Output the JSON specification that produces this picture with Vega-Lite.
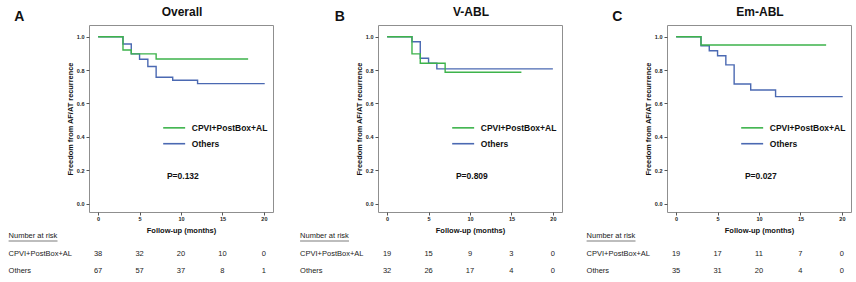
{
  "$schema": "https://vega.github.io/schema/vega-lite/v6.json",
  "background": "white",
  "padding": {"left": 8, "top": 5, "right": 0, "bottom": 0},
  "config": {
    "font": "Liberation Sans",
    "view": {"stroke": null},
    "axis": {"labelFontSize": 5.5, "labelFontWeight": "bold", "labelColor": "#222", "tickSize": 3, "tickColor": "#555", "domain": false, "grid": false, "titleFontSize": 7.4, "titleFontWeight": "bold", "titleColor": "#111"},
    "axisX": {"labelPadding": 1, "titlePadding": 5, "titleFontSize": 7.5},
    "axisY": {"labelPadding": 2, "titlePadding": 2},
    "title": {"fontSize": 12, "fontWeight": "bold", "color": "#111"}
  },
  "datasets": {
    "surv": [
      {"panel": "A", "group": "Others", "time": 0, "surv": 1},
      {"panel": "A", "group": "Others", "time": 3, "surv": 0.956},
      {"panel": "A", "group": "Others", "time": 4, "surv": 0.897},
      {"panel": "A", "group": "Others", "time": 5, "surv": 0.865},
      {"panel": "A", "group": "Others", "time": 6, "surv": 0.821},
      {"panel": "A", "group": "Others", "time": 7, "surv": 0.757},
      {"panel": "A", "group": "Others", "time": 9, "surv": 0.739},
      {"panel": "A", "group": "Others", "time": 12, "surv": 0.719},
      {"panel": "A", "group": "Others", "time": 20.1, "surv": 0.719},
      {"panel": "A", "group": "CPVI+PostBox+AL", "time": 0, "surv": 1},
      {"panel": "A", "group": "CPVI+PostBox+AL", "time": 3, "surv": 0.92},
      {"panel": "A", "group": "CPVI+PostBox+AL", "time": 4, "surv": 0.897},
      {"panel": "A", "group": "CPVI+PostBox+AL", "time": 7, "surv": 0.866},
      {"panel": "A", "group": "CPVI+PostBox+AL", "time": 18.1, "surv": 0.866},
      {"panel": "B", "group": "Others", "time": 0, "surv": 1},
      {"panel": "B", "group": "Others", "time": 3, "surv": 0.97},
      {"panel": "B", "group": "Others", "time": 4, "surv": 0.871},
      {"panel": "B", "group": "Others", "time": 5, "surv": 0.841},
      {"panel": "B", "group": "Others", "time": 6, "surv": 0.807},
      {"panel": "B", "group": "Others", "time": 20, "surv": 0.807},
      {"panel": "B", "group": "CPVI+PostBox+AL", "time": 0, "surv": 1},
      {"panel": "B", "group": "CPVI+PostBox+AL", "time": 3, "surv": 0.897},
      {"panel": "B", "group": "CPVI+PostBox+AL", "time": 4, "surv": 0.841},
      {"panel": "B", "group": "CPVI+PostBox+AL", "time": 7, "surv": 0.787},
      {"panel": "B", "group": "CPVI+PostBox+AL", "time": 16.2, "surv": 0.787},
      {"panel": "C", "group": "Others", "time": 0, "surv": 1},
      {"panel": "C", "group": "Others", "time": 3, "surv": 0.946},
      {"panel": "C", "group": "Others", "time": 4, "surv": 0.916},
      {"panel": "C", "group": "Others", "time": 5, "surv": 0.886},
      {"panel": "C", "group": "Others", "time": 6, "surv": 0.831},
      {"panel": "C", "group": "Others", "time": 7, "surv": 0.717},
      {"panel": "C", "group": "Others", "time": 9, "surv": 0.681},
      {"panel": "C", "group": "Others", "time": 12, "surv": 0.641},
      {"panel": "C", "group": "Others", "time": 20.1, "surv": 0.641},
      {"panel": "C", "group": "CPVI+PostBox+AL", "time": 0, "surv": 1},
      {"panel": "C", "group": "CPVI+PostBox+AL", "time": 3, "surv": 0.95},
      {"panel": "C", "group": "CPVI+PostBox+AL", "time": 18.1, "surv": 0.95}
    ],
    "risk": [
      {"panel": "A", "group": "CPVI+PostBox+AL", "time": 0, "n": 38},
      {"panel": "A", "group": "CPVI+PostBox+AL", "time": 5, "n": 32},
      {"panel": "A", "group": "CPVI+PostBox+AL", "time": 10, "n": 20},
      {"panel": "A", "group": "CPVI+PostBox+AL", "time": 15, "n": 10},
      {"panel": "A", "group": "CPVI+PostBox+AL", "time": 20, "n": 0},
      {"panel": "A", "group": "Others", "time": 0, "n": 67},
      {"panel": "A", "group": "Others", "time": 5, "n": 57},
      {"panel": "A", "group": "Others", "time": 10, "n": 37},
      {"panel": "A", "group": "Others", "time": 15, "n": 8},
      {"panel": "A", "group": "Others", "time": 20, "n": 1},
      {"panel": "B", "group": "CPVI+PostBox+AL", "time": 0, "n": 19},
      {"panel": "B", "group": "CPVI+PostBox+AL", "time": 5, "n": 15},
      {"panel": "B", "group": "CPVI+PostBox+AL", "time": 10, "n": 9},
      {"panel": "B", "group": "CPVI+PostBox+AL", "time": 15, "n": 3},
      {"panel": "B", "group": "CPVI+PostBox+AL", "time": 20, "n": 0},
      {"panel": "B", "group": "Others", "time": 0, "n": 32},
      {"panel": "B", "group": "Others", "time": 5, "n": 26},
      {"panel": "B", "group": "Others", "time": 10, "n": 17},
      {"panel": "B", "group": "Others", "time": 15, "n": 4},
      {"panel": "B", "group": "Others", "time": 20, "n": 0},
      {"panel": "C", "group": "CPVI+PostBox+AL", "time": 0, "n": 19},
      {"panel": "C", "group": "CPVI+PostBox+AL", "time": 5, "n": 17},
      {"panel": "C", "group": "CPVI+PostBox+AL", "time": 10, "n": 11},
      {"panel": "C", "group": "CPVI+PostBox+AL", "time": 15, "n": 7},
      {"panel": "C", "group": "CPVI+PostBox+AL", "time": 20, "n": 0},
      {"panel": "C", "group": "Others", "time": 0, "n": 35},
      {"panel": "C", "group": "Others", "time": 5, "n": 31},
      {"panel": "C", "group": "Others", "time": 10, "n": 20},
      {"panel": "C", "group": "Others", "time": 15, "n": 4},
      {"panel": "C", "group": "Others", "time": 20, "n": 0}
    ]
  },
  "columns": 3,
  "align": "each",
  "bounds": "flush",
  "spacing": {"row": 24, "column": 105},
  "concat": [
    {
      "width": 184, "height": 187,
      "view": {"stroke": "#8f8f8f"},
      "title": {"text": "Overall", "anchor": "middle", "offset": -8.5, "dx": 1},
      "layer": [
        {"data": {"name": "surv"}, "transform": [{"filter": "datum.panel === 'A'"}],
         "mark": {"type": "line", "interpolate": "step-after", "strokeWidth": 1.4},
         "encoding": {
           "x": {"field": "time", "type": "quantitative", "scale": {"domain": [-1.1, 21.1], "nice": false, "zero": false}, "axis": {"values": [0, 5, 10, 15, 20], "tickCount": 20, "labelOverlap": false, "title": "Follow-up (months)"}},
           "y": {"field": "surv", "type": "quantitative", "scale": {"domain": [-0.05, 1.07], "nice": false, "zero": false}, "axis": {"values": [0, 0.2, 0.4, 0.6, 0.8, 1], "tickCount": 20, "labelOverlap": false, "format": ".1f", "title": "Freedom from AF/AT recurrence"}},
           "color": {"field": "group", "type": "nominal", "scale": {"domain": ["CPVI+PostBox+AL", "Others"], "range": ["#3db34b", "#4b69b2"]}, "legend": null}
         }},
        {"data": {"values": [{"group": "CPVI+PostBox+AL"}]}, "mark": {"type": "rule", "strokeWidth": 1.6},
         "encoding": {"x": {"datum": 7.85}, "x2": {"datum": 10.5}, "y": {"datum": 0.454}, "color": {"field": "group", "type": "nominal"}}},
        {"data": {"values": [{"group": "Others"}]}, "mark": {"type": "rule", "strokeWidth": 1.6},
         "encoding": {"x": {"datum": 7.85}, "x2": {"datum": 10.5}, "y": {"datum": 0.359}, "color": {"field": "group", "type": "nominal"}}},
        {"data": {"values": [{"group": "CPVI+PostBox+AL"}]}, "mark": {"type": "text", "align": "left", "fontSize": 8.5, "fontWeight": "bold", "color": "#111"},
         "encoding": {"x": {"datum": 11.3}, "y": {"datum": 0.454}, "text": {"field": "group"}}},
        {"data": {"values": [{"group": "Others"}]}, "mark": {"type": "text", "align": "left", "fontSize": 8.5, "fontWeight": "bold", "color": "#111"},
         "encoding": {"x": {"datum": 11.3}, "y": {"datum": 0.359}, "text": {"field": "group"}}},
        {"data": {"values": [{"p": "P=0.132"}]}, "mark": {"type": "text", "align": "left", "fontSize": 8.5, "fontWeight": "bold", "color": "#111"},
         "encoding": {"x": {"datum": 8.3}, "y": {"datum": 0.167}, "text": {"field": "p"}}},
        {"data": {"values": [{"label": "A"}]}, "mark": {"type": "text", "fontSize": 14, "fontWeight": "bold", "color": "#111"},
         "encoding": {"x": {"datum": -9.5}, "y": {"datum": 1.115}, "text": {"field": "label"}}}
      ]
    },
    {
      "width": 184, "height": 187,
      "view": {"stroke": "#8f8f8f"},
      "title": {"text": "V-ABL", "anchor": "middle", "offset": -8.5, "dx": 1},
      "layer": [
        {"data": {"name": "surv"}, "transform": [{"filter": "datum.panel === 'B'"}],
         "mark": {"type": "line", "interpolate": "step-after", "strokeWidth": 1.4},
         "encoding": {
           "x": {"field": "time", "type": "quantitative", "scale": {"domain": [-1.1, 21.1], "nice": false, "zero": false}, "axis": {"values": [0, 5, 10, 15, 20], "tickCount": 20, "labelOverlap": false, "title": "Follow-up (months)"}},
           "y": {"field": "surv", "type": "quantitative", "scale": {"domain": [-0.05, 1.07], "nice": false, "zero": false}, "axis": {"values": [0, 0.2, 0.4, 0.6, 0.8, 1], "tickCount": 20, "labelOverlap": false, "format": ".1f", "title": "Freedom from AF/AT recurrence"}},
           "color": {"field": "group", "type": "nominal", "scale": {"domain": ["CPVI+PostBox+AL", "Others"], "range": ["#3db34b", "#4b69b2"]}, "legend": null}
         }},
        {"data": {"values": [{"group": "CPVI+PostBox+AL"}]}, "mark": {"type": "rule", "strokeWidth": 1.6},
         "encoding": {"x": {"datum": 7.85}, "x2": {"datum": 10.5}, "y": {"datum": 0.454}, "color": {"field": "group", "type": "nominal"}}},
        {"data": {"values": [{"group": "Others"}]}, "mark": {"type": "rule", "strokeWidth": 1.6},
         "encoding": {"x": {"datum": 7.85}, "x2": {"datum": 10.5}, "y": {"datum": 0.359}, "color": {"field": "group", "type": "nominal"}}},
        {"data": {"values": [{"group": "CPVI+PostBox+AL"}]}, "mark": {"type": "text", "align": "left", "fontSize": 8.5, "fontWeight": "bold", "color": "#111"},
         "encoding": {"x": {"datum": 11.3}, "y": {"datum": 0.454}, "text": {"field": "group"}}},
        {"data": {"values": [{"group": "Others"}]}, "mark": {"type": "text", "align": "left", "fontSize": 8.5, "fontWeight": "bold", "color": "#111"},
         "encoding": {"x": {"datum": 11.3}, "y": {"datum": 0.359}, "text": {"field": "group"}}},
        {"data": {"values": [{"p": "P=0.809"}]}, "mark": {"type": "text", "align": "left", "fontSize": 8.5, "fontWeight": "bold", "color": "#111"},
         "encoding": {"x": {"datum": 8.3}, "y": {"datum": 0.167}, "text": {"field": "p"}}},
        {"data": {"values": [{"label": "B"}]}, "mark": {"type": "text", "fontSize": 14, "fontWeight": "bold", "color": "#111"},
         "encoding": {"x": {"datum": -5.7}, "y": {"datum": 1.115}, "text": {"field": "label"}}}
      ]
    },
    {
      "width": 184, "height": 187,
      "view": {"stroke": "#8f8f8f"},
      "title": {"text": "Em-ABL", "anchor": "middle", "offset": -8.5, "dx": 1},
      "layer": [
        {"data": {"name": "surv"}, "transform": [{"filter": "datum.panel === 'C'"}],
         "mark": {"type": "line", "interpolate": "step-after", "strokeWidth": 1.4},
         "encoding": {
           "x": {"field": "time", "type": "quantitative", "scale": {"domain": [-1.1, 21.1], "nice": false, "zero": false}, "axis": {"values": [0, 5, 10, 15, 20], "tickCount": 20, "labelOverlap": false, "title": "Follow-up (months)"}},
           "y": {"field": "surv", "type": "quantitative", "scale": {"domain": [-0.05, 1.07], "nice": false, "zero": false}, "axis": {"values": [0, 0.2, 0.4, 0.6, 0.8, 1], "tickCount": 20, "labelOverlap": false, "format": ".1f", "title": "Freedom from AF/AT recurrence"}},
           "color": {"field": "group", "type": "nominal", "scale": {"domain": ["CPVI+PostBox+AL", "Others"], "range": ["#3db34b", "#4b69b2"]}, "legend": null}
         }},
        {"data": {"values": [{"group": "CPVI+PostBox+AL"}]}, "mark": {"type": "rule", "strokeWidth": 1.6},
         "encoding": {"x": {"datum": 7.85}, "x2": {"datum": 10.5}, "y": {"datum": 0.454}, "color": {"field": "group", "type": "nominal"}}},
        {"data": {"values": [{"group": "Others"}]}, "mark": {"type": "rule", "strokeWidth": 1.6},
         "encoding": {"x": {"datum": 7.85}, "x2": {"datum": 10.5}, "y": {"datum": 0.359}, "color": {"field": "group", "type": "nominal"}}},
        {"data": {"values": [{"group": "CPVI+PostBox+AL"}]}, "mark": {"type": "text", "align": "left", "fontSize": 8.5, "fontWeight": "bold", "color": "#111"},
         "encoding": {"x": {"datum": 11.3}, "y": {"datum": 0.454}, "text": {"field": "group"}}},
        {"data": {"values": [{"group": "Others"}]}, "mark": {"type": "text", "align": "left", "fontSize": 8.5, "fontWeight": "bold", "color": "#111"},
         "encoding": {"x": {"datum": 11.3}, "y": {"datum": 0.359}, "text": {"field": "group"}}},
        {"data": {"values": [{"p": "P=0.027"}]}, "mark": {"type": "text", "align": "left", "fontSize": 8.5, "fontWeight": "bold", "color": "#111"},
         "encoding": {"x": {"datum": 8.3}, "y": {"datum": 0.167}, "text": {"field": "p"}}},
        {"data": {"values": [{"label": "C"}]}, "mark": {"type": "text", "fontSize": 14, "fontWeight": "bold", "color": "#111"},
         "encoding": {"x": {"datum": -7.1}, "y": {"datum": 1.115}, "text": {"field": "label"}}}
      ]
    },
    {
      "width": 184, "height": 35,
      "layer": [
        {"data": {"name": "risk"}, "transform": [{"filter": "datum.panel === 'A'"}],
         "mark": {"type": "text", "fontSize": 7.5, "color": "#222"},
         "encoding": {
           "x": {"field": "time", "type": "quantitative", "scale": {"domain": [-1.1, 21.1], "nice": false, "zero": false}, "axis": null},
           "y": {"field": "group", "type": "nominal", "scale": {"type": "point", "domain": ["Number at risk", "CPVI+PostBox+AL", "Others"], "padding": 0}, "axis": null},
           "text": {"field": "n", "type": "quantitative"}
         }},
        {"data": {"name": "risk"}, "transform": [{"filter": "datum.panel === 'A'"}, {"aggregate": [{"op": "count", "as": "k"}], "groupby": ["group"]}],
         "mark": {"type": "text", "align": "left", "fontSize": 7.5, "color": "#222"},
         "encoding": {"x": {"datum": -10.8}, "y": {"field": "group", "type": "nominal"}, "text": {"field": "group"}}},
        {"data": {"values": [{"label": "Number at risk"}]},
         "mark": {"type": "text", "align": "left", "fontSize": 7.5, "color": "#222"},
         "encoding": {"x": {"datum": -10.8}, "y": {"field": "label", "type": "nominal"}, "text": {"field": "label"}}},
        {"data": {"values": [{"label": "Number at risk"}]},
         "mark": {"type": "rule", "yOffset": 5, "strokeWidth": 0.7, "color": "#444"},
         "encoding": {"x": {"datum": -10.8}, "x2": {"datum": -4.9}, "y": {"field": "label", "type": "nominal"}}}
      ]
    },
    {
      "width": 184, "height": 35,
      "layer": [
        {"data": {"name": "risk"}, "transform": [{"filter": "datum.panel === 'B'"}],
         "mark": {"type": "text", "fontSize": 7.5, "color": "#222"},
         "encoding": {
           "x": {"field": "time", "type": "quantitative", "scale": {"domain": [-1.1, 21.1], "nice": false, "zero": false}, "axis": null},
           "y": {"field": "group", "type": "nominal", "scale": {"type": "point", "domain": ["Number at risk", "CPVI+PostBox+AL", "Others"], "padding": 0}, "axis": null},
           "text": {"field": "n", "type": "quantitative"}
         }},
        {"data": {"name": "risk"}, "transform": [{"filter": "datum.panel === 'B'"}, {"aggregate": [{"op": "count", "as": "k"}], "groupby": ["group"]}],
         "mark": {"type": "text", "align": "left", "fontSize": 7.5, "color": "#222"},
         "encoding": {"x": {"datum": -10.5}, "y": {"field": "group", "type": "nominal"}, "text": {"field": "group"}}},
        {"data": {"values": [{"label": "Number at risk"}]},
         "mark": {"type": "text", "align": "left", "fontSize": 7.5, "color": "#222"},
         "encoding": {"x": {"datum": -10.5}, "y": {"field": "label", "type": "nominal"}, "text": {"field": "label"}}},
        {"data": {"values": [{"label": "Number at risk"}]},
         "mark": {"type": "rule", "yOffset": 5, "strokeWidth": 0.7, "color": "#444"},
         "encoding": {"x": {"datum": -10.5}, "x2": {"datum": -4.6}, "y": {"field": "label", "type": "nominal"}}}
      ]
    },
    {
      "width": 184, "height": 35,
      "layer": [
        {"data": {"name": "risk"}, "transform": [{"filter": "datum.panel === 'C'"}],
         "mark": {"type": "text", "fontSize": 7.5, "color": "#222"},
         "encoding": {
           "x": {"field": "time", "type": "quantitative", "scale": {"domain": [-1.1, 21.1], "nice": false, "zero": false}, "axis": null},
           "y": {"field": "group", "type": "nominal", "scale": {"type": "point", "domain": ["Number at risk", "CPVI+PostBox+AL", "Others"], "padding": 0}, "axis": null},
           "text": {"field": "n", "type": "quantitative"}
         }},
        {"data": {"name": "risk"}, "transform": [{"filter": "datum.panel === 'C'"}, {"aggregate": [{"op": "count", "as": "k"}], "groupby": ["group"]}],
         "mark": {"type": "text", "align": "left", "fontSize": 7.5, "color": "#222"},
         "encoding": {"x": {"datum": -10.8}, "y": {"field": "group", "type": "nominal"}, "text": {"field": "group"}}},
        {"data": {"values": [{"label": "Number at risk"}]},
         "mark": {"type": "text", "align": "left", "fontSize": 7.5, "color": "#222"},
         "encoding": {"x": {"datum": -10.8}, "y": {"field": "label", "type": "nominal"}, "text": {"field": "label"}}},
        {"data": {"values": [{"label": "Number at risk"}]},
         "mark": {"type": "rule", "yOffset": 5, "strokeWidth": 0.7, "color": "#444"},
         "encoding": {"x": {"datum": -10.8}, "x2": {"datum": -4.9}, "y": {"field": "label", "type": "nominal"}}}
      ]
    }
  ]
}
